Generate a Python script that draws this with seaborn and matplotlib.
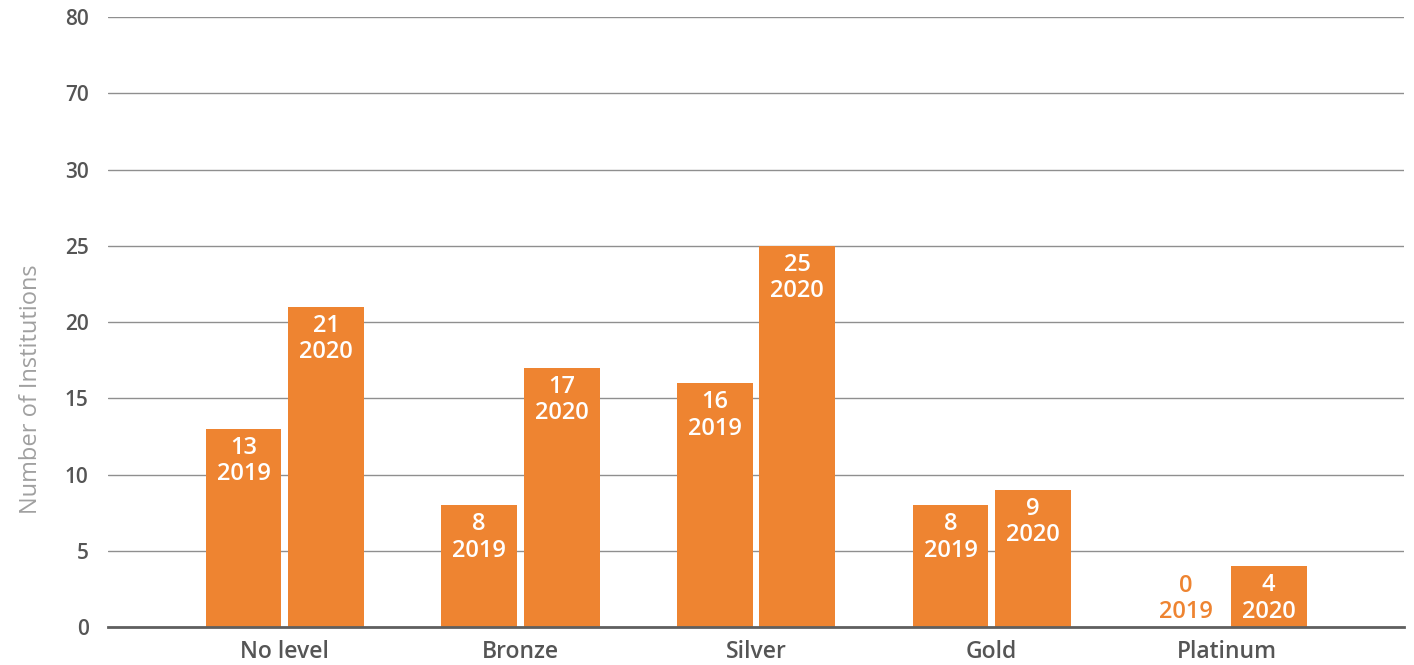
import matplotlib
matplotlib.use("Agg")
import matplotlib.pyplot as plt
import seaborn as sns
import pandas as pd

# Recognition levels and institution counts per year
levels = ["No level", "Bronze", "Silver", "Gold", "Platinum"]
counts_2019 = [13, 8, 16, 8, 0]
counts_2020 = [21, 17, 25, 9, 4]
years = ["2019", "2020"]

# Evenly spaced axis positions carry these labels
ytick_pos = [0, 5, 10, 15, 20, 25, 30, 35, 40]
ytick_labels = ["0", "5", "10", "15", "20", "25", "30", "70", "80"]

ORANGE = "#EE8431"
TEXT = "#555555"

sns.set_theme(style="white")
plt.rcParams["font.family"] = ["Open Sans", "DejaVu Sans"]

df = pd.DataFrame({
    "level": levels * 2,
    "year": [years[0]] * len(levels) + [years[1]] * len(levels),
    "count": counts_2019 + counts_2020,
})

fig = plt.figure(figsize=(14.14, 6.65), dpi=100)
ax = fig.add_axes([0.0764, 0.0571, 0.9166, 0.9173])

sns.barplot(data=df, x="level", y="count", hue="year", order=levels,
            hue_order=years, palette=[ORANGE, ORANGE], width=0.7, gap=0.08,
            saturation=1, legend=False, ax=ax, errorbar=None, linewidth=0)

ax.set_xlim(-0.75, 4.75)
ax.set_ylim(0, 40)
ax.set_yticks(ytick_pos)
ax.set_yticklabels(ytick_labels)
ax.grid(axis="y", color="#8f8f8f", linewidth=1.0)
ax.set_axisbelow(True)
for side in ["top", "right", "left"]:
    ax.spines[side].set_visible(False)
ax.spines["bottom"].set_color("#5f5f5f")
ax.spines["bottom"].set_linewidth(2)
ax.spines["bottom"].set_zorder(5)

ax.tick_params(axis="y", length=0, pad=14, labelsize=15, labelcolor=TEXT)
ax.tick_params(axis="x", length=0, pad=9, labelsize=16.5, labelcolor=TEXT)
for lbl in ax.get_yticklabels() + ax.get_xticklabels():
    lbl.set_fontweight("semibold")

ax.set_xlabel("")
ax.set_ylabel("Number of Institutions", fontsize=17, color="#a0a0a0")
ax.yaxis.set_label_coords(-0.05, 0.39)

# Value and year labels inside each bar
for container, year in zip(ax.containers, years):
    for bar in container:
        val = bar.get_height()
        x = bar.get_x() + bar.get_width() / 2
        text = f"{int(round(val))}\n{year}"
        if val == 0:
            ax.annotate(text, (x, 0), xytext=(0, 2), textcoords="offset points",
                        ha="center", va="bottom", color=ORANGE, fontsize=17,
                        fontweight="semibold", linespacing=1.15)
        else:
            ax.annotate(text, (x, val), xytext=(0, -5), textcoords="offset points",
                        ha="center", va="top", color="white", fontsize=17,
                        fontweight="semibold", linespacing=1.15)

fig.savefig("out.png", dpi=100)
